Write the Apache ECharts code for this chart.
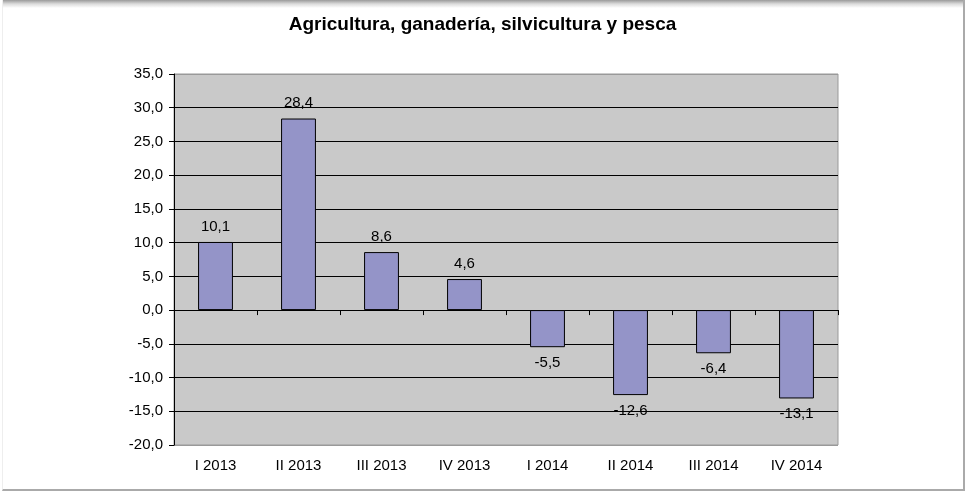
<!DOCTYPE html>
<html>
<head>
<meta charset="utf-8">
<script src="https://cdn.jsdelivr.net/npm/echarts@6/dist/echarts.min.js"></script>
<style>
  html, body { margin: 0; padding: 0; background: #fff; }
  .frame {
    position: absolute; left: 2px; top: 0; width: 960px; height: 489px;
    border-right: 2px solid #aaa; border-bottom: 2px solid #aaa; border-left: 1px solid #eee;
    background: linear-gradient(#9a9a9a 0px, #dcdcdc 4px, #fff 8px);
  }
  #chart { position: absolute; left: 0; top: 0; width: 965px; height: 491px; }
</style>
</head>
<body>
<div class="frame"></div>
<div id="chart"></div>
<script>
var categories = ['I 2013', 'II 2013', 'III 2013', 'IV 2013', 'I 2014', 'II 2014', 'III 2014', 'IV 2014']
var values = [10.1, 28.4, 8.6, 4.6, -5.5, -12.6, -6.4, -13.1]
var yMin = -20
var yMax = 35
var yStep = 5

function fmt (v) {
  return v.toFixed(1).replace('.', ',')
}

// los bordes del área van en gris, las líneas interiores en negro
var gridColors = []
for (var t = yMin; t <= yMax; t += yStep) {
  gridColors.push(t === yMin || t === yMax ? '#999' : '#000')
}

var chart = echarts.init(document.getElementById('chart'))
chart.setOption({
  animation: false,
  title: {
    text: 'Agricultura, ganadería, silvicultura y pesca',
    left: 'center',
    top: 10,
    textStyle: { fontFamily: 'Liberation Sans', fontSize: 19, fontWeight: 'bold', color: '#000' }
  },
  grid: {
    left: 174, right: 127, top: 74, bottom: 46,
    show: true, backgroundColor: '#C9C9C9', borderColor: '#999', borderWidth: 1
  },
  xAxis: {
    type: 'category',
    data: categories,
    axisLine: { onZero: true, lineStyle: { color: '#000' } },
    axisTick: { show: true, length: 5, lineStyle: { color: '#000' } },
    axisLabel: {
      interval: 0, margin: 13,
      fontFamily: 'Liberation Sans', fontSize: 15, color: '#000'
    },
    position: 'bottom'
  },
  yAxis: {
    type: 'value',
    min: yMin, max: yMax, interval: yStep,
    axisLine: { show: true, lineStyle: { color: '#000' } },
    axisTick: { show: true, length: 5, lineStyle: { color: '#000' } },
    axisLabel: {
      fontFamily: 'Liberation Sans', fontSize: 15, color: '#000', margin: 11,
      formatter: function (v) { return fmt(v) }
    },
    splitLine: { show: true, lineStyle: { color: gridColors, width: 1 } }
  },
  series: [{
    type: 'bar',
    barWidth: '42%',
    itemStyle: { color: '#9494C8', borderColor: '#000', borderWidth: 1 },
    label: {
      show: true,
      fontFamily: 'Liberation Sans', fontSize: 15, color: '#000', distance: 8,
      formatter: function (p) { return fmt(p.value) }
    },
    data: values.map(function (v) {
      return { value: v, label: { position: v >= 0 ? 'top' : 'bottom' } }
    })
  }]
})
</script>
</body>
</html>
